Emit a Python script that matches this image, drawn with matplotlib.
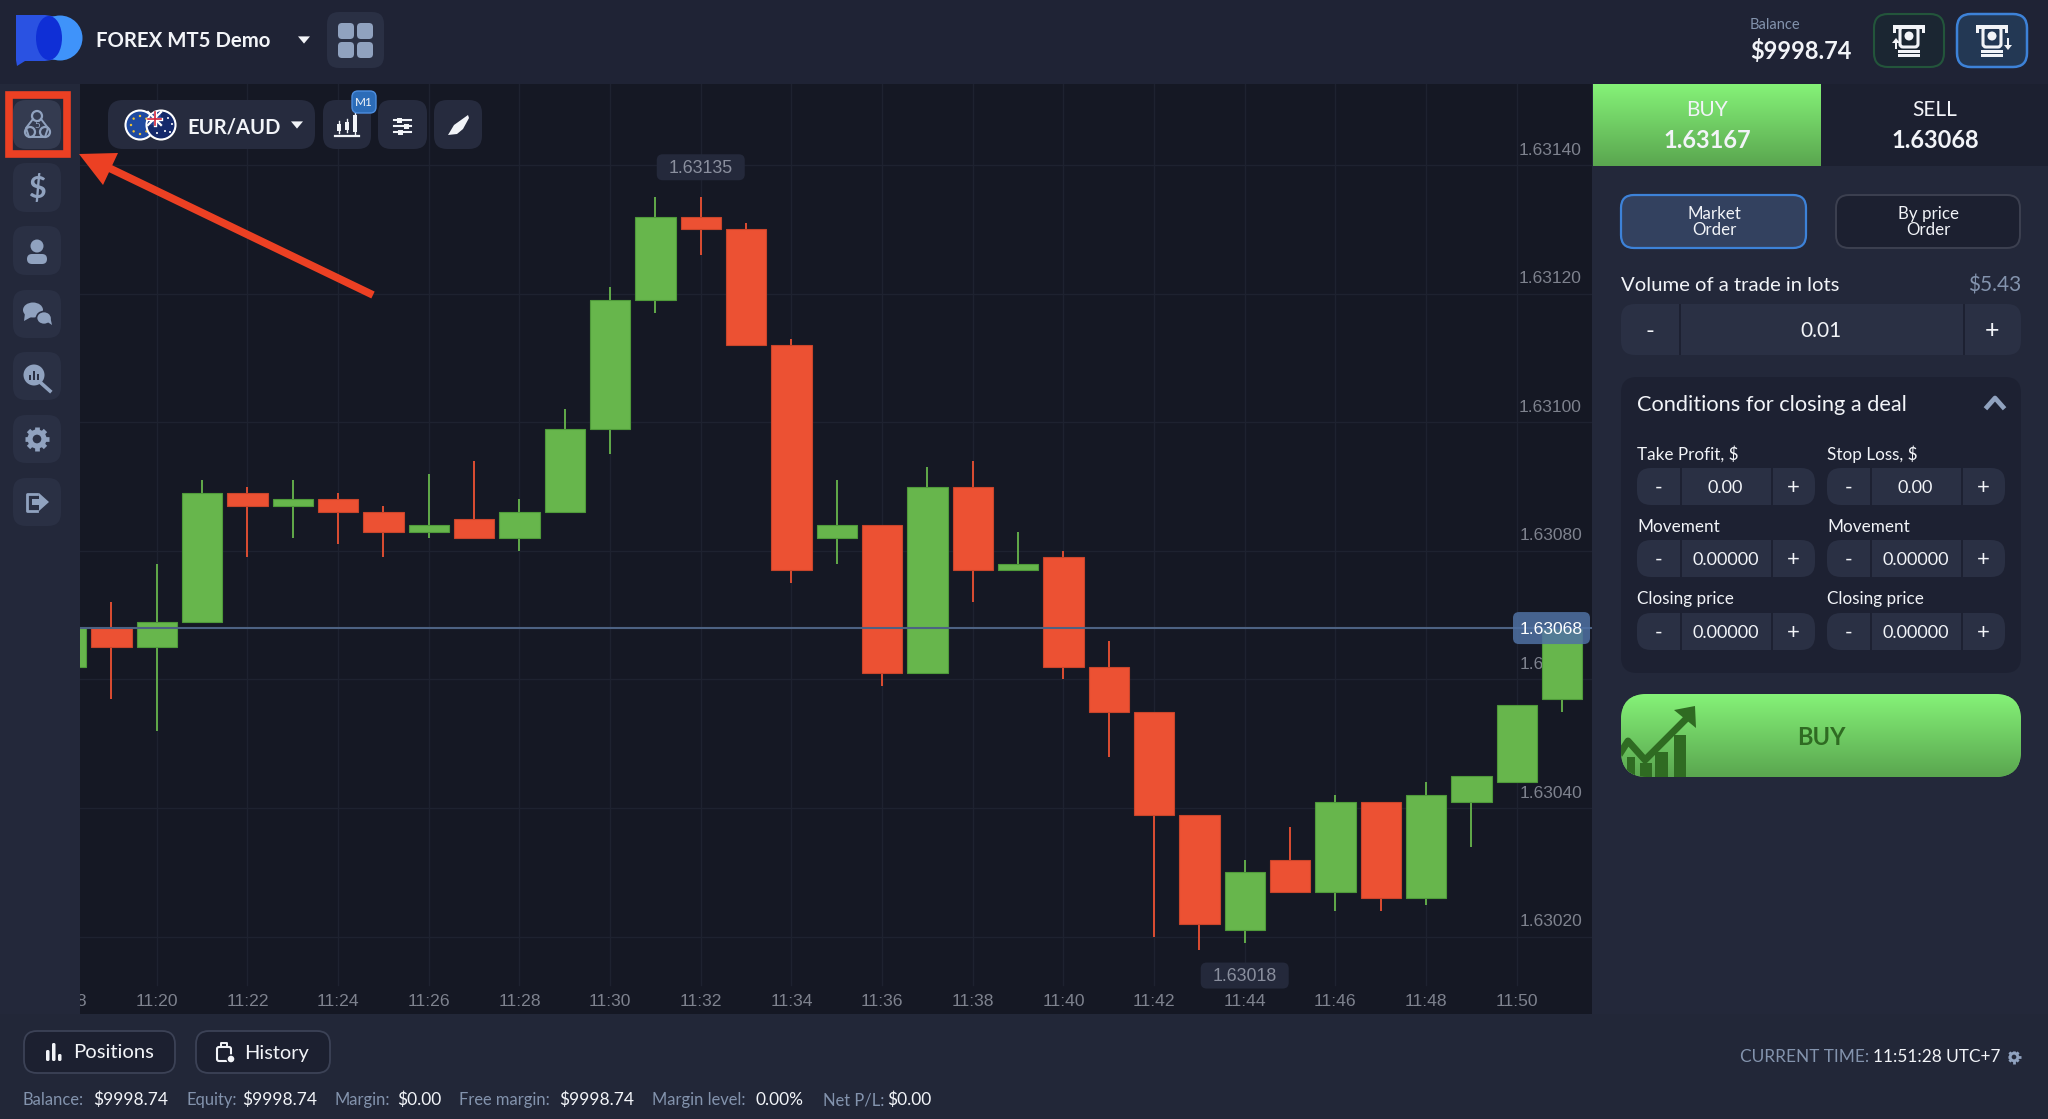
import numpy as np
import matplotlib
matplotlib.use("Agg")
import matplotlib.pyplot as plt
from matplotlib.patches import FancyBboxPatch, Circle, Rectangle, Polygon, Ellipse, Wedge

# valores (velas de 1 minuto, 11:18 a 11:51)
minutes = list(range(18, 52))
opens = [1.63062, 1.63068, 1.63065, 1.63069, 1.63089, 1.63087, 1.63088, 1.63086, 1.63083, 1.63085,
         1.63082, 1.63086, 1.63099, 1.63119, 1.63132, 1.63130, 1.63112, 1.63082, 1.63084, 1.63061,
         1.63090, 1.63077, 1.63079, 1.63062, 1.63055, 1.63039, 1.63021, 1.63032, 1.63027, 1.63041,
         1.63026, 1.63041, 1.63044, 1.63057]
closes = [1.63068, 1.63065, 1.63069, 1.63089, 1.63087, 1.63088, 1.63086, 1.63083, 1.63084, 1.63082,
          1.63086, 1.63099, 1.63119, 1.63132, 1.63130, 1.63112, 1.63077, 1.63084, 1.63061, 1.63090,
          1.63077, 1.63078, 1.63062, 1.63055, 1.63039, 1.63022, 1.63030, 1.63027, 1.63041, 1.63026,
          1.63042, 1.63045, 1.63056, 1.63068]
highs = [1.63068, 1.63072, 1.63078, 1.63091, 1.63090, 1.63091, 1.63089, 1.63087, 1.63092, 1.63094,
         1.63088, 1.63102, 1.63121, 1.63135, 1.63135, 1.63131, 1.63113, 1.63091, 1.63084, 1.63093,
         1.63094, 1.63083, 1.63080, 1.63066, 1.63055, 1.63039, 1.63032, 1.63037, 1.63042, 1.63041,
         1.63044, 1.63045, 1.63056, 1.63068]
lows = [1.63062, 1.63057, 1.63052, 1.63069, 1.63079, 1.63082, 1.63081, 1.63079, 1.63082, 1.63082,
        1.63080, 1.63086, 1.63095, 1.63117, 1.63126, 1.63112, 1.63075, 1.63078, 1.63059, 1.63061,
        1.63072, 1.63077, 1.63060, 1.63048, 1.63020, 1.63018, 1.63019, 1.63027, 1.63024, 1.63024,
        1.63025, 1.63034, 1.63044, 1.63055]

price_ticks = [1.63020, 1.63040, 1.63060, 1.63080, 1.63100, 1.63120, 1.63140]
time_ticks = list(range(18, 52, 2))
current_price = 1.63068
max_price = 1.63135
min_price = 1.63018
max_minute = 32
min_minute = 44

status_labels = ["Balance:", "Equity:", "Margin:", "Free margin:", "Margin level:", "Net P/L:"]
status_values = ["$9998.74", "$9998.74", "$0.00", "$9998.74", "0.00%", "$0.00"]

W, H = 2048, 1119
BG = "#1f2335"
SIDE = "#23283a"
CHART = "#151824"
DARK = "#1d2132"
BTN = "#2a3044"
ICON = "#90a2bf"
MUTED = "#8393ad"
GREEN = "#67b64c"
RED = "#ec5133"
ARROW = "#ec4023"
WHITE = "#f2f4f8"
AXIS_TEXT = "#7e828e"

plt.rcParams["font.family"] = ["Lato", "DejaVu Sans"]

fig = plt.figure(figsize=(W / 100, H / 100), dpi=100, facecolor=BG)


def px_axes(z):
    a = fig.add_axes([0, 0, 1, 1], zorder=z)
    a.set_xlim(0, W)
    a.set_ylim(H, 0)
    a.axis("off")
    return a


def rbox(a, x0, y0, x1, y1, r, fc, ec="none", lw=0, z=2):
    p = FancyBboxPatch((x0 + r, y0 + r), x1 - x0 - 2 * r, y1 - y0 - 2 * r,
                       boxstyle=f"round,pad={r},rounding_size={r}", fc=fc, ec=ec, lw=lw, zorder=z)
    a.add_patch(p)
    return p


def gradient(a, x0, y0, x1, y1, clip, top="#85f278", bottom="#5aa64f"):
    t = np.array(matplotlib.colors.to_rgb(top))
    b = np.array(matplotlib.colors.to_rgb(bottom))
    grad = np.linspace(0, 1, 128)[:, None, None] * (b - t) + t
    im = a.imshow(grad, extent=(x0, x1, y1, y0), aspect="auto", zorder=3)
    if clip is not None:
        im.set_clip_path(clip)
    a.set_xlim(0, W)
    a.set_ylim(H, 0)


def stepper(a, x0, x1, y0, y1, d0, d1, value, fs):
    rbox(a, x0, y0, x1, y1, 14, BTN, z=4)
    a.add_patch(Rectangle((d0, y0), 2, y1 - y0, fc=DARK, zorder=5))
    a.add_patch(Rectangle((d1, y0), 2, y1 - y0, fc=DARK, zorder=5))
    ym = (y0 + y1) / 2 + 1.5
    a.text((x0 + d0) / 2, ym, "-", color=WHITE, fontsize=fs + 2, ha="center", va="center", zorder=6)
    a.text((d0 + d1) / 2, ym, value, color=WHITE, fontsize=fs, ha="center", va="center", zorder=6)
    a.text((d1 + x1) / 2, ym, "+", color=WHITE, fontsize=fs + 3, ha="center", va="center", zorder=6)


def caret(a, x, y, s=6, color=WHITE):
    a.add_patch(Polygon([(x - s, y - s * 0.6), (x + s, y - s * 0.6), (x, y + s * 0.6)], fc=color, zorder=6))


def gear(a, x, y, r, lw, hole_color):
    for t in np.arange(0, 2 * np.pi, np.pi / 4):
        a.plot([x, x + r * np.cos(t)], [y, y + r * np.sin(t)], color=ICON, lw=lw, zorder=5,
               solid_capstyle="butt")
    a.add_patch(Circle((x, y), r * 0.8, fc=ICON, zorder=5))
    a.add_patch(Circle((x, y), r * 0.36, fc=hole_color, zorder=6))


# fundo da interface
ui = px_axes(0)
ui.add_patch(Rectangle((0, 84), 80, 930, fc=SIDE, zorder=1))
ui.add_patch(Rectangle((1592, 84), 456, 930, fc="#23283a", zorder=1))
ui.add_patch(Rectangle((0, 1014), W, 105, fc="#222738", zorder=1))

# logo
left = Polygon([(16, 15), (45, 15), (58, 17), (66, 27), (68, 38), (66, 50), (58, 59), (45, 61),
                (25, 61), (17, 66), (16, 60)], fc="#2a52e2", zorder=3)
ui.add_patch(left)
ui.add_patch(Circle((60, 38), 22.5, fc="#3f93fa", zorder=3))
ui.add_patch(Ellipse((49, 38), 26, 44, fc="#0f2fd6", zorder=4))

ui.text(96, 41, "FOREX MT5 Demo", color=WHITE, fontsize=14.7, fontweight="bold", va="center", zorder=5)
caret(ui, 304, 40, 6)
rbox(ui, 327, 12, 384, 68, 12, BTN)
for gx in (338, 357):
    for gy in (23, 42):
        rbox(ui, gx, gy, gx + 16, gy + 16, 4, ICON, z=3)

# saldo e botoes do topo
ui.text(1750, 25, "Balance", color=MUTED, fontsize=10.5, va="center", zorder=5)
ui.text(1750, 51.5, "$9998.74", color=WHITE, fontsize=17, fontweight="bold", va="center", zorder=5)
rbox(ui, 1874, 14, 1944, 67, 14, "#1b2632", ec="#23553b", lw=1.5)
rbox(ui, 1957, 14, 2027, 67, 14, "#233854", ec="#3d82d8", lw=1.8)
for cx in (1909, 1992):
    ui.add_patch(Rectangle((cx - 16, 25), 32, 4, fc=WHITE, zorder=5))
    ui.add_patch(Rectangle((cx - 16, 25), 3, 8, fc=WHITE, zorder=5))
    ui.add_patch(Rectangle((cx + 13, 25), 3, 8, fc=WHITE, zorder=5))
    rbox(ui, cx - 9, 27, cx + 9, 47, 3, "none", ec=WHITE, lw=2.2, z=5)
    ui.add_patch(Circle((cx, 36), 4.5, fc=WHITE, zorder=6))
    ui.add_patch(Rectangle((cx - 11, 50), 22, 2.5, fc=WHITE, zorder=5))
    ui.add_patch(Rectangle((cx - 11, 54), 22, 2.5, fc=WHITE, zorder=5))
# setas de deposito e saque
ui.add_patch(Polygon([(1896, 38), (1892, 43), (1895, 43), (1895, 49), (1897, 49), (1897, 43), (1900, 43)], fc=WHITE, zorder=6))
ui.add_patch(Polygon([(2008, 50), (2004, 45), (2007, 45), (2007, 38), (2009, 38), (2009, 45), (2012, 45)], fc=WHITE, zorder=6))

# barra lateral
side_y = [(100, 149), (163, 212), (226, 275), (290, 338), (352, 400), (415, 463), (478, 526)]
for i, (y0, y1) in enumerate(side_y):
    rbox(ui, 13, y0, 61, y1, 13, "#343b50" if i == 0 else "#2a3044")
# icone 1
ui.add_patch(Circle((37, 116), 5, fc="none", ec=ICON, lw=1.6, zorder=5))
ui.add_patch(Circle((30, 132), 5, fc="none", ec=ICON, lw=1.6, zorder=5))
ui.add_patch(Circle((45, 132), 5, fc="none", ec=ICON, lw=1.6, zorder=5))
ui.plot([33, 26, 29, 45, 48, 41], [119, 128, 137, 137, 128, 119], color=ICON, lw=1.4, zorder=5)
ui.text(37, 125, "5", color=ICON, fontsize=7, ha="center", va="center", zorder=5)
ui.text(37, 189, "$", color=ICON, fontsize=22, fontweight="bold", ha="center", va="center", zorder=5)
# pessoa
ui.add_patch(Circle((37, 246), 6.5, fc=ICON, zorder=5))
rbox(ui, 27, 254, 47, 264, 5, ICON, z=5)
# chat
ui.add_patch(Ellipse((33, 310), 20, 15, fc=ICON, zorder=5))
ui.add_patch(Polygon([(25, 313), (24, 321), (33, 316)], fc=ICON, zorder=5))
ui.add_patch(Ellipse((44, 318), 15, 13, fc=ICON, ec="#2a3044", lw=1.2, zorder=6))
ui.add_patch(Polygon([(46, 321), (52, 325), (50, 316)], fc=ICON, zorder=6))
# lupa
ui.add_patch(Circle((34, 375), 10.5, fc=ICON, zorder=5))
ui.plot([41, 50], [383, 391], color=ICON, lw=2.6, zorder=5)
for bx, bh in zip((30, 34, 38), (5, 9, 6)):
    ui.add_patch(Rectangle((bx - 1, 380 - bh), 2, bh, fc="#2a3044", zorder=6))
gear(ui, 37, 439, 12, 3.4, "#2a3044")
# sair
ui.plot([37, 27, 27, 37], [494, 494, 511, 511], color=ICON, lw=2, zorder=5)
ui.add_patch(Polygon([(32, 499), (39, 499), (39, 493), (49, 502), (39, 511), (39, 505), (32, 505)], fc=ICON, zorder=6))

# painel de compra e venda
ui.add_patch(Rectangle((1821, 84), 227, 82, fc="#1c2030", zorder=2))
gradient(ui, 1593, 84, 1821, 166, None)
ui.text(1707, 110.5, "BUY", color=WHITE, fontsize=15, ha="center", va="center", zorder=5)
ui.text(1707, 140, "1.63167", color=WHITE, fontsize=17, fontweight="bold", ha="center", va="center", zorder=5)
ui.text(1935, 110.5, "SELL", color=WHITE, fontsize=15, ha="center", va="center", zorder=5)
ui.text(1935, 140, "1.63068", color=WHITE, fontsize=17, fontweight="bold", ha="center", va="center", zorder=5)

rbox(ui, 1621, 195, 1806, 248, 13, "#33415f", ec="#3d82d8", lw=1.6)
rbox(ui, 1836, 195, 2020, 248, 13, "#1c2030", ec="#3c4050", lw=1.4)
ui.text(1714, 222, "Market\nOrder", color=WHITE, fontsize=12.2, ha="center", va="center", linespacing=1.0, zorder=5)
ui.text(1928, 222, "By price\nOrder", color=WHITE, fontsize=12.2, ha="center", va="center", linespacing=1.0, zorder=5)
ui.text(1621, 285.5, "Volume of a trade in lots", color=WHITE, fontsize=14.6, va="center", zorder=5)
ui.text(2021, 285.5, "$5.43", color=MUTED, fontsize=15, ha="right", va="center", zorder=5)
stepper(ui, 1621, 2021, 304, 355, 1679, 1963, "0.01", 15)

rbox(ui, 1621, 377, 2021, 673, 16, DARK)
ui.text(1637, 405, "Conditions for closing a deal", color=WHITE, fontsize=15.7, va="center", zorder=5)
ui.plot([1987, 1995, 2003], [407, 398, 407], color=ICON, lw=3.4, zorder=5)

rows = [(453, 468, 505, "Take Profit, $", "Stop Loss, $", "0.00"),
        (526, 540, 577, "Movement", "Movement", "0.00000"),
        (598, 613, 650, "Closing price", "Closing price", "0.00000")]
for ly, y0, y1, lab_l, lab_r, val in rows:
    ui.text(1637, ly + 1, lab_l, color=WHITE, fontsize=12.3, va="center", zorder=5)
    ui.text(1827, ly + 1, lab_r, color=WHITE, fontsize=12.3, va="center", zorder=5)
    stepper(ui, 1637, 1815, y0, y1, 1680, 1771, val, 13)
    stepper(ui, 1827, 2005, y0, y1, 1870, 1961, val, 13)

buy = rbox(ui, 1621, 694, 2021, 777, 26, "#6bcb5e")
gradient(ui, 1621, 694, 2021, 777, buy)
ICON_G = "#2f6b22"
for bx0, bx1, by in [(1627, 1635, 757), (1640, 1652, 763), (1655, 1668, 752), (1674, 1686, 735)]:
    bar = Rectangle((bx0, by), bx1 - bx0, 777 - by, fc=ICON_G, zorder=5)
    ui.add_patch(bar)
    bar.set_clip_path(buy)
trend = ui.plot([1621, 1628, 1645, 1690], [752, 741, 760, 715], color=ICON_G, lw=5, zorder=5)[0]
trend.set_clip_path(buy)
ui.add_patch(Polygon([(1674, 710), (1695, 706), (1696, 728)], fc=ICON_G, zorder=5))
ui.text(1821, 737.5, "BUY", color=ICON_G, fontsize=17, fontweight="bold", ha="center", va="center", zorder=6)

# rodape
rbox(ui, 24, 1031, 175, 1073, 13, "#1c2030", ec="#3c4256", lw=1.3)
rbox(ui, 196, 1031, 330, 1073, 13, "#1c2030", ec="#3c4256", lw=1.3)
for bx, by in zip((46, 52, 58), (1050, 1043, 1054)):
    rbox(ui, bx, by, bx + 3.5, 1061, 1.5, WHITE, z=5)
rbox(ui, 217, 1047, 231, 1061, 2, "none", ec=WHITE, lw=1.5, z=5)
ui.plot([221, 221, 227, 227], [1047, 1043, 1043, 1047], color=WHITE, lw=1.4, zorder=5)
ui.add_patch(Circle((231, 1059), 4, fc=WHITE, ec="#1c2030", lw=1, zorder=6))
ui.text(73, 1053, "Positions", color=WHITE, fontsize=14.6, va="center", zorder=5)
ui.text(244, 1053, "History", color=WHITE, fontsize=14.4, va="center", zorder=5)

status_x = [(23, 93), (186, 242), (335, 397), (459, 559), (652, 755), (823, 887)]
for (xl, xv), lab, val in zip(status_x, status_labels, status_values):
    ui.text(xl, 1100, lab, color=MUTED, fontsize=11.9, va="center", zorder=5)
    ui.text(xv, 1100, val, color=WHITE, fontsize=12.5, va="center", zorder=5)

ui.text(1740, 1057, "CURRENT TIME:", color=MUTED, fontsize=12.4, va="center", zorder=5)
ui.text(1873, 1057, "11:51:28 UTC+7", color=WHITE, fontsize=12.4, va="center", zorder=5)
gear(ui, 2014, 1057, 6.5, 2, "#222738")

# area do grafico, em coordenadas de tempo e preco
ax = fig.add_axes([80 / W, 1 - 1014 / H, 1512 / W, 930 / H], zorder=1, facecolor=CHART)
PX_MIN = 45.33
PX_PIP = 6.43
X20 = 156.8
ax.set_xlim(20 + (80 - X20) / PX_MIN, 20 + (1592 - X20) / PX_MIN)
ax.set_ylim(1.63060 - (1014 - 679.5) / PX_PIP * 1e-5, 1.63060 + (679.5 - 84) / PX_PIP * 1e-5)
for s in ax.spines.values():
    s.set_visible(False)
ax.set_xticks([])
ax.set_yticks([])

for p in price_ticks:
    ax.axhline(p, color="#1e2230", lw=1, zorder=1)
    ax.annotate(f"{p:.5f}", (1582, p), xycoords=("figure pixels", "data"), xytext=(0, 15), textcoords="offset pixels",
                color=AXIS_TEXT, fontsize=12.5, family="Liberation Sans", ha="right", va="center", zorder=2)
label_y = ax.get_ylim()[0] + 12 / PX_PIP * 1e-5
for m in time_ticks:
    ax.axvline(m, ymin=(1014 - 985) / 930, color="#1e2230", lw=1, zorder=1)
    ax.text(m, label_y, f"11:{m:02d}", color=AXIS_TEXT, fontsize=12.6,
            family="Liberation Sans", ha="center", va="center", zorder=2, clip_on=True)

o = np.array(opens)
c = np.array(closes)
colors = [GREEN if cl >= op else RED for op, cl in zip(opens, closes)]
edges = ["#4f9a3a" if cl >= op else "#c9452b" for op, cl in zip(opens, closes)]
ax.vlines(minutes, lows, highs, colors=colors, lw=1.3, zorder=3)
ax.bar(minutes, np.abs(c - o), bottom=np.minimum(o, c), width=0.89, color=colors, edgecolor=edges, lw=0.8, zorder=4)
ax.axhline(current_price, color="#4d6283", lw=1.5, zorder=5)

# etiquetas e seta por cima do grafico
top = px_axes(3)
top.patch.set_alpha(0)


def tag(minute, price, text, dy):
    x, y = top.transData.inverted().transform(ax.transData.transform((minute, price)))
    y += dy
    rbox(top, x - 44, y - 13, x + 44, y + 13, 6, "#24293b", z=3)
    top.text(x, y + 1, text, color="#8a8f9e", fontsize=12.8, family="Liberation Sans", ha="center", va="center", zorder=4)


tag(max_minute, max_price, f"{max_price:.5f}", -30)
tag(min_minute, min_price, f"{min_price:.5f}", 26)

cur_y = top.transData.inverted().transform(ax.transData.transform((20, current_price)))[1]
p = rbox(top, 1513, cur_y - 16, 1590, cur_y + 16, 6, "#4f71a3", z=3)
p.set_alpha(0.85)
top.text(1551, cur_y + 1, f"{current_price:.5f}", color="white", fontsize=12.6, family="Liberation Sans",
         ha="center", va="center", zorder=4)

# barra de ferramentas
rbox(top, 108, 100, 315, 149, 15, "#262b3e")
eu = Circle((140, 125), 14.5, fc="#1f4aa0", ec="white", lw=1.5, zorder=4)
top.add_patch(eu)
for t in np.arange(0, 2 * np.pi, np.pi / 4):
    top.add_patch(Circle((140 + 9 * np.cos(t), 125 + 9 * np.sin(t)), 1.2, fc="#f2c431", zorder=4))
au = Circle((161, 125), 14.5, fc="#14296b", ec="white", lw=1.5, zorder=5)
top.add_patch(au)
top.add_patch(Wedge((161, 125), 13.5, 180, 270, fc="#1f3a8a", zorder=6))
top.plot([148, 161], [112, 125], color="white", lw=1.6, zorder=6)
top.plot([148, 161], [125, 112], color="white", lw=1.6, zorder=6)
top.plot([148, 161], [118.5, 118.5], color="white", lw=2.4, zorder=6)
top.plot([154.5, 154.5], [112, 125], color="white", lw=2.4, zorder=6)
top.plot([148, 161], [118.5, 118.5], color="#d2263c", lw=1.2, zorder=7)
top.plot([154.5, 154.5], [112, 125], color="#d2263c", lw=1.2, zorder=7)
for sx, sy in [(168, 118), (172, 124), (165, 131), (170, 132), (157, 133)]:
    top.add_patch(Circle((sx, sy), 1, fc="white", zorder=7))
top.text(187, 127, "EUR/AUD", color=WHITE, fontsize=14.5, fontweight="bold", va="center", zorder=5)
caret(top, 297, 125, 6)
for x0, x1 in [(323, 371), (378, 427), (434, 482)]:
    rbox(top, x0, 100, x1, 149, 13, "#262b3e")
top.plot([335, 359], [136, 136], color=WHITE, lw=1.6, zorder=5)
for bx, b0, b1 in [(339, 124, 131), (347, 122, 130), (355, 115, 132)]:
    top.plot([bx, bx], [b0 - 3, b1 + 2], color=WHITE, lw=1, zorder=5)
    top.add_patch(Rectangle((bx - 2, b0), 4, b1 - b0, fc=WHITE, zorder=5))
rbox(top, 352, 91, 376, 113, 6, "#2c6cb8", ec="#4d8ee0", lw=1, z=6)
top.text(364, 102, "M1", color=WHITE, fontsize=8.5, ha="center", va="center", zorder=7)
for sy, sx in [(120, 399), (126, 406), (132, 400)]:
    top.plot([394, 411], [sy, sy], color=WHITE, lw=1.5, zorder=5)
    top.add_patch(Rectangle((sx - 2, sy - 2.5), 5, 5, fc=WHITE, zorder=6))
top.add_patch(Polygon([(468, 115), (469, 118), (463, 129), (457, 134), (448, 135), (451, 130), (454, 125)], fc=WHITE, zorder=5))

# destaque vermelho e seta
top.add_patch(Rectangle((8.5, 94.5), 58.5, 59.5, fc="none", ec=ARROW, lw=5.5, zorder=8))
top.plot([373, 105], [295, 166], color=ARROW, lw=5.5, solid_capstyle="butt", zorder=8)
top.add_patch(Polygon([(79, 154), (118, 153), (103, 185)], fc=ARROW, zorder=8))

fig.savefig("out.png", dpi=100, facecolor=BG)
plt.close(fig)
